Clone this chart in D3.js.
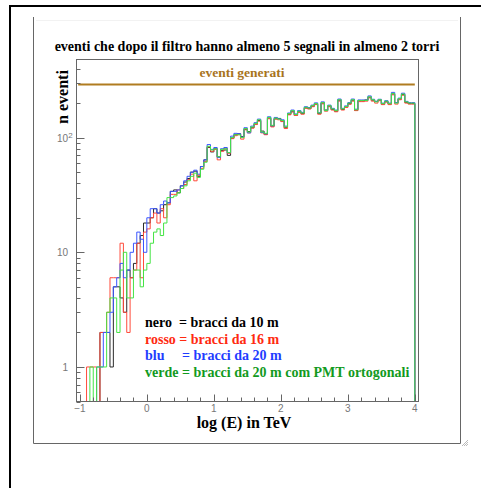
<!DOCTYPE html>
<html>
<head>
  <meta http-equiv="content-type" content="text/html; charset=utf-8" />
  <title>eventi</title>
  <style type="text/css">
  body { margin: 0; background: #fff; }
  svg { display: block; }
  .serif { font-family: "Liberation Serif", "Times New Roman", serif; font-weight: bold; }
  .tick { font-family: "Liberation Sans", Arial, sans-serif; font-size: 10px; fill: #777; }
  </style>
  <script src="https://cdnjs.cloudflare.com/ajax/libs/d3/7.8.5/d3.min.js"></script>
</head>
<body>
<script type="text/javascript">

  // histogram binning: 100 bins of 0.05 in log(E) from -1 to 4
  var binStart = -1;
  var binWidth = 0.05;
  var nBins = 100;

  // counts per bin
  var nero = [0,0,0,0,0,0,2,2,2,1,5,5,4,3,7,6,8,12,14,18,18,20,24,22,23,26,
    27,34,35,33,38,41,44,50,51,46,56,64,82,75,80,68,77,78,70,99,106,108,
    102,118,113,122,131,141,114,107,148,126,146,147,139,122,160,170,157,168,162,182,
    179,188,196,162,200,174,188,176,170,212,176,185,198,212,173,209,209,213,225,212,
    207,212,196,206,196,240,202,217,238,203,198,198];
  var rosso = [0,0,1,1,1,0,2,2,3,6,6,6,12,3,2,6,7,12,6,15,16,20,22,18,24,20,
    26,32,32,35,36,39,43,48,42,47,54,62,83,76,79,64,76,81,73,98,104,106,
    97,117,110,121,130,139,110,106,146,124,145,143,138,120,158,167,156,166,160,180,
    178,186,194,160,197,170,186,174,168,208,174,183,195,208,172,206,206,208,222,208,
    200,210,194,204,194,236,196,214,234,200,196,196];
  var blu = [0,0,0,0,0,1,1,2,2,3,5,6,8,6,7,10,12,15,13,10,20,24,24,22,26,28,
    27,34,34,35,38,42,46,50,52,48,56,64,87,79,82,67,80,82,74,103,109,108,
    101,122,110,126,135,145,111,108,152,127,150,146,143,126,164,174,161,172,166,186,
    183,192,201,165,205,173,192,180,174,217,180,189,202,217,177,213,213,212,231,216,
    207,216,200,210,200,248,202,221,244,207,202,202];
  var verde = [0,0,0,1,0,1,1,1,3,4,4,2,7,10,4,4,7,7,5,7,8,12,15,16,14,18,
    30,30,31,33,36,38,42,46,49,45,53,61,84,78,80,68,79,80,74,100,106,106,
    100,120,112,124,133,143,112,109,150,128,148,145,141,124,162,172,159,170,164,184,
    181,190,198,164,202,172,190,178,172,214,178,187,200,214,175,211,211,211,227,214,
    205,214,198,208,198,243,200,219,240,205,200,200];

  var eventiGenerati = 290;

  var xTicks = [-1, 0, 1, 2, 3, 4];
  var xTickLabels = ["\u22121", "0", "1", "2", "3", "4"];
  var yTicks = [1, 10, 100];
  var yTickLabels = ["1", "10", "10^2"];

  var legendLines = [
    {text: "nero  = bracci da 10 m", color: "#000000"},
    {text: "rosso = bracci da 16 m", color: "#ff2a10"},
    {text: "blu     = bracci da 20 m", color: "#1f3dff"},
    {text: "verde = bracci da 20 m com PMT ortogonali", color: "#129a1e"}
  ];

  var series = [
    {values: nero, color: "#2a2a2a"},
    {values: rosso, color: "#ff4a3a"},
    {values: blu, color: "#3a55ff"},
    {values: verde, color: "#44e444"}
  ];

  var w = 481, h = 488;
  var frame = {left: 76.5, right: 418.5, top: 59.5, bottom: 401.5};

  var svg = d3.select("body").append("svg")
    .attr("width", w)
    .attr("height", h);

  // page decoration: black outer border and grey canvas box
  svg.append("path")
    .attr("d", "M10,488V6H481")
    .attr("fill", "none")
    .attr("stroke", "#000")
    .attr("stroke-width", 2);
  svg.append("path")
    .attr("d", "M33.5,17V443.5H460.5V17")
    .attr("fill", "none")
    .attr("stroke", "#666")
    .attr("stroke-width", 1);
  svg.append("line")
    .attr("x1", 36).attr("x2", 458).attr("y1", 20.5).attr("y2", 20.5)
    .attr("stroke", "#f2f2f2");
  // little resize grip
  for (var g = 0; g < 3; g++) {
    svg.append("line")
      .attr("x1", 462 + g * 2).attr("y1", 446)
      .attr("x2", 468).attr("y2", 440 + g * 2)
      .attr("stroke", "#bbb");
  }

  var x = d3.scaleLinear()
    .domain([-1.05, 4.055])
    .range([frame.left, frame.right]);
  var y = d3.scaleLog()
    .domain([0.5, 480])
    .range([frame.bottom, frame.top]);

  svg.append("clipPath").attr("id", "frameclip")
    .append("rect")
    .attr("x", frame.left).attr("y", frame.top)
    .attr("width", frame.right - frame.left)
    .attr("height", frame.bottom - frame.top);

  // step outline the way ROOT draws it, empty bins go down to the floor
  function stepPath(values) {
    var pts = [[x(binStart), frame.bottom]];
    for (var i = 0; i < nBins; i++) {
      var lo = binStart + i * binWidth;
      var hi = lo + binWidth;
      var yy = values[i] > 0 ? y(values[i]) : frame.bottom;
      pts.push([x(lo), yy]);
      pts.push([x(hi), yy]);
    }
    pts.push([x(binStart + nBins * binWidth), frame.bottom]);
    return d3.line()(pts);
  }

  var histG = svg.append("g").attr("clip-path", "url(#frameclip)");
  series.forEach(function(s) {
    histG.append("path")
      .attr("d", stepPath(s.values))
      .attr("fill", "none")
      .attr("stroke", s.color)
      .attr("stroke-width", 1);
  });

  // generated events line
  svg.append("line")
    .attr("x1", x(-1.025)).attr("x2", x(4))
    .attr("y1", y(eventiGenerati)).attr("y2", y(eventiGenerati))
    .attr("stroke", "#b07c20")
    .attr("stroke-width", 2);
  svg.append("text")
    .attr("class", "serif")
    .attr("x", 242).attr("y", 77)
    .attr("text-anchor", "middle")
    .attr("font-size", 13.5)
    .attr("fill", "#a8741c")
    .text("eventi generati");

  // frame
  svg.append("rect")
    .attr("x", frame.left).attr("y", frame.top)
    .attr("width", frame.right - frame.left)
    .attr("height", frame.bottom - frame.top)
    .attr("fill", "none")
    .attr("stroke", "#666");

  // x axis ticks (inside, pointing up)
  var xMinor = d3.range(-1, 4.0001, 0.2);
  xMinor.forEach(function(t) {
    var major = Math.abs(t - Math.round(t)) < 1e-6;
    svg.append("line")
      .attr("x1", Math.round(x(t)) + 0.5).attr("x2", Math.round(x(t)) + 0.5)
      .attr("y1", frame.bottom).attr("y2", frame.bottom - (major ? 7 : 4))
      .attr("stroke", "#666");
  });
  xTicks.forEach(function(t, i) {
    svg.append("text")
      .attr("class", "tick")
      .attr("x", x(t)).attr("y", 412)
      .attr("text-anchor", "middle")
      .text(xTickLabels[i]);
  });

  // y axis ticks, log decades with minor ticks
  var yMinor = [];
  [0.1, 1, 10, 100].forEach(function(dec) {
    for (var m = 1; m <= 9; m++) {
      var v = dec * m;
      if (v >= 0.5 && v <= 480) yMinor.push(v);
    }
  });
  yMinor.forEach(function(v) {
    var major = yTicks.indexOf(v) >= 0;
    svg.append("line")
      .attr("x1", frame.left).attr("x2", frame.left + (major ? 8 : 4))
      .attr("y1", Math.round(y(v)) + 0.5).attr("y2", Math.round(y(v)) + 0.5)
      .attr("stroke", "#666");
  });
  yTicks.forEach(function(v, i) {
    var lab = yTickLabels[i];
    var t = svg.append("text")
      .attr("class", "tick")
      .attr("y", y(v) + 4);
    if (lab.indexOf("^") > 0) {
      var parts = lab.split("^");
      t.attr("x", 57);
      t.append("tspan").text(parts[0]);
      t.append("tspan").attr("dy", -4).attr("font-size", 8).text(parts[1]);
    } else {
      t.attr("x", 68).attr("text-anchor", "end").text(lab);
    }
  });

  // titles
  svg.append("text")
    .attr("class", "serif")
    .attr("x", 247).attr("y", 51)
    .attr("text-anchor", "middle")
    .attr("font-size", 14)
    .attr("fill", "#000")
    .text("eventi che dopo il filtro hanno almeno 5 segnali in almeno 2 torri");

  svg.append("text")
    .attr("class", "serif")
    .attr("x", 244).attr("y", 428)
    .attr("text-anchor", "middle")
    .attr("font-size", 16)
    .attr("fill", "#000")
    .text("log (E) in TeV");

  svg.append("text")
    .attr("class", "serif")
    .attr("transform", "translate(68,97) rotate(-90)")
    .attr("text-anchor", "middle")
    .attr("font-size", 16)
    .attr("fill", "#000")
    .text("n eventi");

  // legend
  legendLines.forEach(function(l, i) {
    svg.append("text")
      .attr("class", "serif")
      .attr("x", 145).attr("y", 327 + i * 16.5)
      .attr("font-size", 14)
      .attr("fill", l.color)
      .attr("xml:space", "preserve")
      .style("white-space", "pre")
      .text(l.text);
  });

</script>
</body>
</html>
